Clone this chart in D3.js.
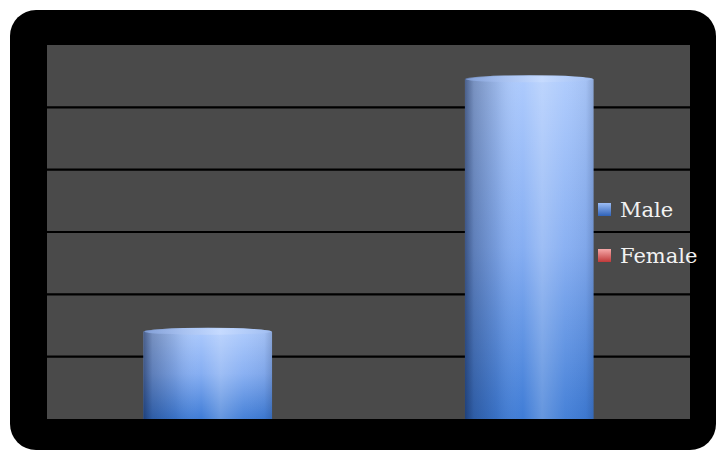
<!DOCTYPE html>
<html>
<head>
<meta charset="utf-8">
<script src="https://cdn.jsdelivr.net/npm/d3@7/dist/d3.min.js"></script>
<style>
  html, body { margin: 0; padding: 0; background: #ffffff; }
  svg { display: block; }
</style>
</head>
<body>
<script>
// Chart data
const categories = ["Male", "Female"];
const values = [14, 54.5];
const legendLabels = ["Male", "Female"];
const gridTicks = [10, 20, 30, 40, 50];

const W = 716, H = 451;
const frame = { x: 10, y: 10, w: 706, h: 440, r: 26 };
const plot = { left: 47, right: 690, top: 45, bottom: 419 };

const svg = d3.select("body").append("svg")
  .attr("width", W).attr("height", H);

const defs = svg.append("defs");

// Cylinder body: vertical colour ramp
const gBody = defs.append("linearGradient").attr("id", "bodyV")
  .attr("x1", 0).attr("y1", 0).attr("x2", 0).attr("y2", 1);
gBody.append("stop").attr("offset", "0%").attr("stop-color", "#aecbfd");
gBody.append("stop").attr("offset", "50%").attr("stop-color", "#86aef2");
gBody.append("stop").attr("offset", "100%").attr("stop-color", "#3f7cd6");

// Cylinder body: horizontal shading across the curved face
const gShade = defs.append("linearGradient").attr("id", "bodyH")
  .attr("x1", 0).attr("y1", 0).attr("x2", 1).attr("y2", 0);
[
  ["0%", "#0a1a40", 0.6],
  ["7%", "#0a1a40", 0.32],
  ["25%", "#0a1a40", 0.12],
  ["45%", "#ffffff", 0.0],
  ["60%", "#ffffff", 0.2],
  ["78%", "#ffffff", 0.04],
  ["94%", "#0a1a40", 0.05],
  ["100%", "#0a1a40", 0.2]
].forEach(([o, c, a]) => gShade.append("stop")
  .attr("offset", o).attr("stop-color", c).attr("stop-opacity", a));

// Cylinder cap
const gCap = defs.append("linearGradient").attr("id", "cap")
  .attr("x1", 0).attr("y1", 0).attr("x2", 1).attr("y2", 0);
gCap.append("stop").attr("offset", "0%").attr("stop-color", "#88a6e0");
gCap.append("stop").attr("offset", "60%").attr("stop-color", "#c8dcff");
gCap.append("stop").attr("offset", "100%").attr("stop-color", "#a2bff2");

// Legend markers
const legendColors = [["#9cbdf4", "#2f62b8"], ["#f6a8a8", "#c03a3a"]];
legendColors.forEach((c, i) => {
  const g = defs.append("linearGradient").attr("id", "lg" + i)
    .attr("x1", 0).attr("y1", 0).attr("x2", 0).attr("y2", 1);
  g.append("stop").attr("offset", "0%").attr("stop-color", c[0]);
  g.append("stop").attr("offset", "100%").attr("stop-color", c[1]);
});

// Outer black frame
svg.append("rect")
  .attr("x", frame.x).attr("y", frame.y)
  .attr("width", frame.w).attr("height", frame.h)
  .attr("rx", frame.r).attr("ry", frame.r)
  .attr("fill", "#000000");

// Plot area
svg.append("rect")
  .attr("x", plot.left).attr("y", plot.top)
  .attr("width", plot.right - plot.left).attr("height", plot.bottom - plot.top)
  .attr("fill", "#4a4a4a");

const x = d3.scaleBand().domain(categories).range([plot.left, plot.right]).padding(0);
const y = d3.scaleLinear().domain([0, 60]).range([plot.bottom, plot.top]);

// Horizontal gridlines
svg.append("g").selectAll("line").data(gridTicks).join("line")
  .attr("x1", plot.left).attr("x2", plot.right)
  .attr("y1", d => y(d)).attr("y2", d => y(d))
  .attr("stroke", "#000000").attr("stroke-width", 2.2);

// Cylinder bars
const barW = x.bandwidth() * 0.4;
const ry = 4;
const bars = svg.append("g").selectAll("g").data(values).join("g")
  .attr("transform", (d, i) => `translate(${x(categories[i]) + (x.bandwidth() - barW) / 2},0)`);

const bodyPath = d => {
  const top = y(d), bot = y(0);
  return `M0,${top} A${barW / 2},${ry} 0 0 1 ${barW},${top} L${barW},${bot} L0,${bot} Z`;
};
bars.append("path").attr("d", bodyPath).attr("fill", "url(#bodyV)");
bars.append("path").attr("d", bodyPath).attr("fill", "url(#bodyH)");
bars.append("ellipse")
  .attr("cx", barW / 2).attr("cy", d => y(d))
  .attr("rx", barW / 2 - 1).attr("ry", ry - 1)
  .attr("fill", "url(#cap)").attr("opacity", 0.8);

// Legend
const legend = svg.append("g").selectAll("g").data(legendLabels).join("g")
  .attr("transform", (d, i) => `translate(598,${203 + i * 46})`);
legend.append("rect")
  .attr("width", 13).attr("height", 13)
  .attr("fill", (d, i) => `url(#lg${i})`);
legend.append("text")
  .attr("x", 22).attr("y", 14)
  .attr("font-family", "DejaVu Serif, serif")
  .attr("font-size", 21)
  .attr("fill", "#f2f2f2")
  .text(d => d);
</script>
</body>
</html>
